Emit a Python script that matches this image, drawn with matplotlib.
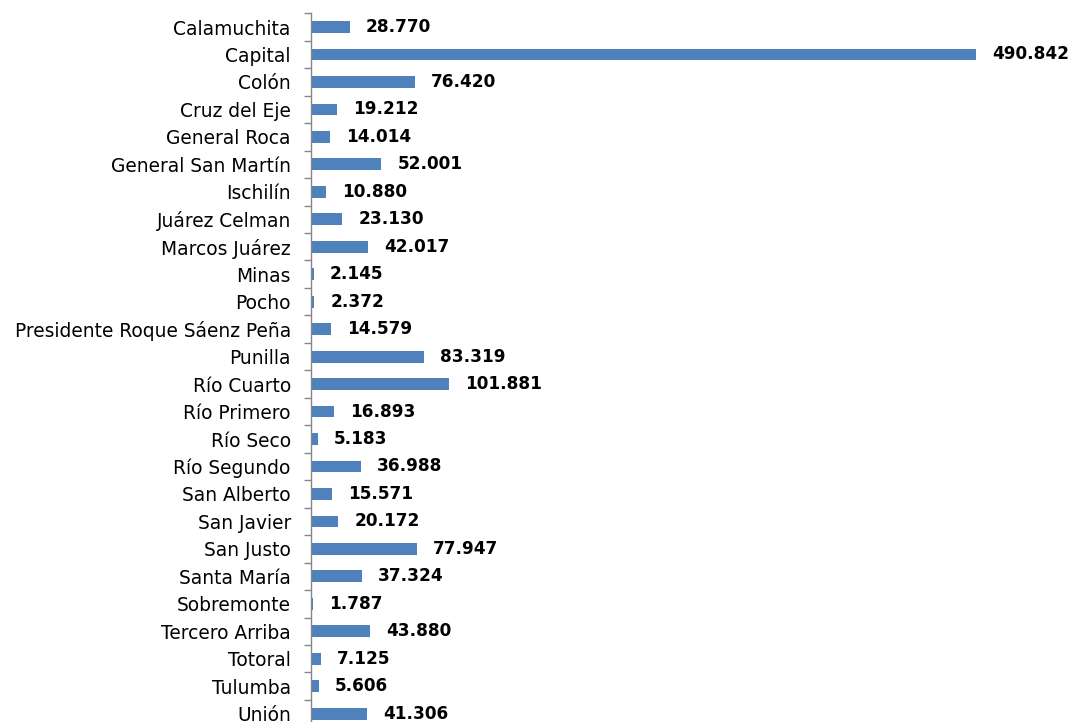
import matplotlib
matplotlib.use("Agg")
import matplotlib.pyplot as plt
import numpy as np

plt.rcParams['font.family'] = ['DejaVu Sans']

departments = ["Calamuchita", "Capital", "Colón", "Cruz del Eje", "General Roca",
               "General San Martín", "Ischilín", "Juárez Celman", "Marcos Juárez",
               "Minas", "Pocho", "Presidente Roque Sáenz Peña", "Punilla", "Río Cuarto",
               "Río Primero", "Río Seco", "Río Segundo", "San Alberto", "San Javier",
               "San Justo", "Santa María", "Sobremonte", "Tercero Arriba", "Totoral",
               "Tulumba", "Unión"]
values = [28770, 490842, 76420, 19212, 14014, 52001, 10880, 23130, 42017, 2145,
          2372, 14579, 83319, 101881, 16893, 5183, 36988, 15571, 20172, 77947,
          37324, 1787, 43880, 7125, 5606, 41306]
labels = ["28.770", "490.842", "76.420", "19.212", "14.014", "52.001", "10.880",
          "23.130", "42.017", "2.145", "2.372", "14.579", "83.319", "101.881",
          "16.893", "5.183", "36.988", "15.571", "20.172", "77.947", "37.324",
          "1.787", "43.880", "7.125", "5.606", "41.306"]

W, H = 1070, 722
fig = plt.figure(figsize=(W / 100, H / 100), dpi=100)
left_px, right_px = 311, 1060
top_px, bot_px = 13.3, 727.4
xmax = 490842 * (right_px - left_px) / (976 - left_px)
ax = fig.add_axes([left_px / W, (H - bot_px) / H, (right_px - left_px) / W, (bot_px - top_px) / H])

y = np.arange(len(departments))
ax.barh(y, values, height=0.43, color="#4F81BD")
ax.set_xlim(0, xmax)
ax.set_ylim(len(departments) - 0.5, -0.5)

for yi, v, lab in zip(y, values, labels):
    ax.annotate(lab, (v, yi), xytext=(16, 0), textcoords="offset pixels",
                va="center", ha="left", fontsize=12.2, fontweight="bold", color="black",
                clip_on=False)

ax.set_yticks(y)
ax.set_yticklabels(departments, fontsize=13.4)
ax.set_yticks(np.arange(-0.5, len(departments) + 0.5, 1), minor=True)
ax.tick_params(axis="y", which="major", length=0, pad=14.5)
ax.tick_params(axis="y", which="minor", length=5, width=1, color="#868686", direction="out")
ax.set_xticks([])
for s in ["top", "right", "bottom"]:
    ax.spines[s].set_visible(False)
ax.spines["left"].set_color("#868686")
ax.spines["left"].set_linewidth(1)

fig.savefig("out.png", dpi=100)
